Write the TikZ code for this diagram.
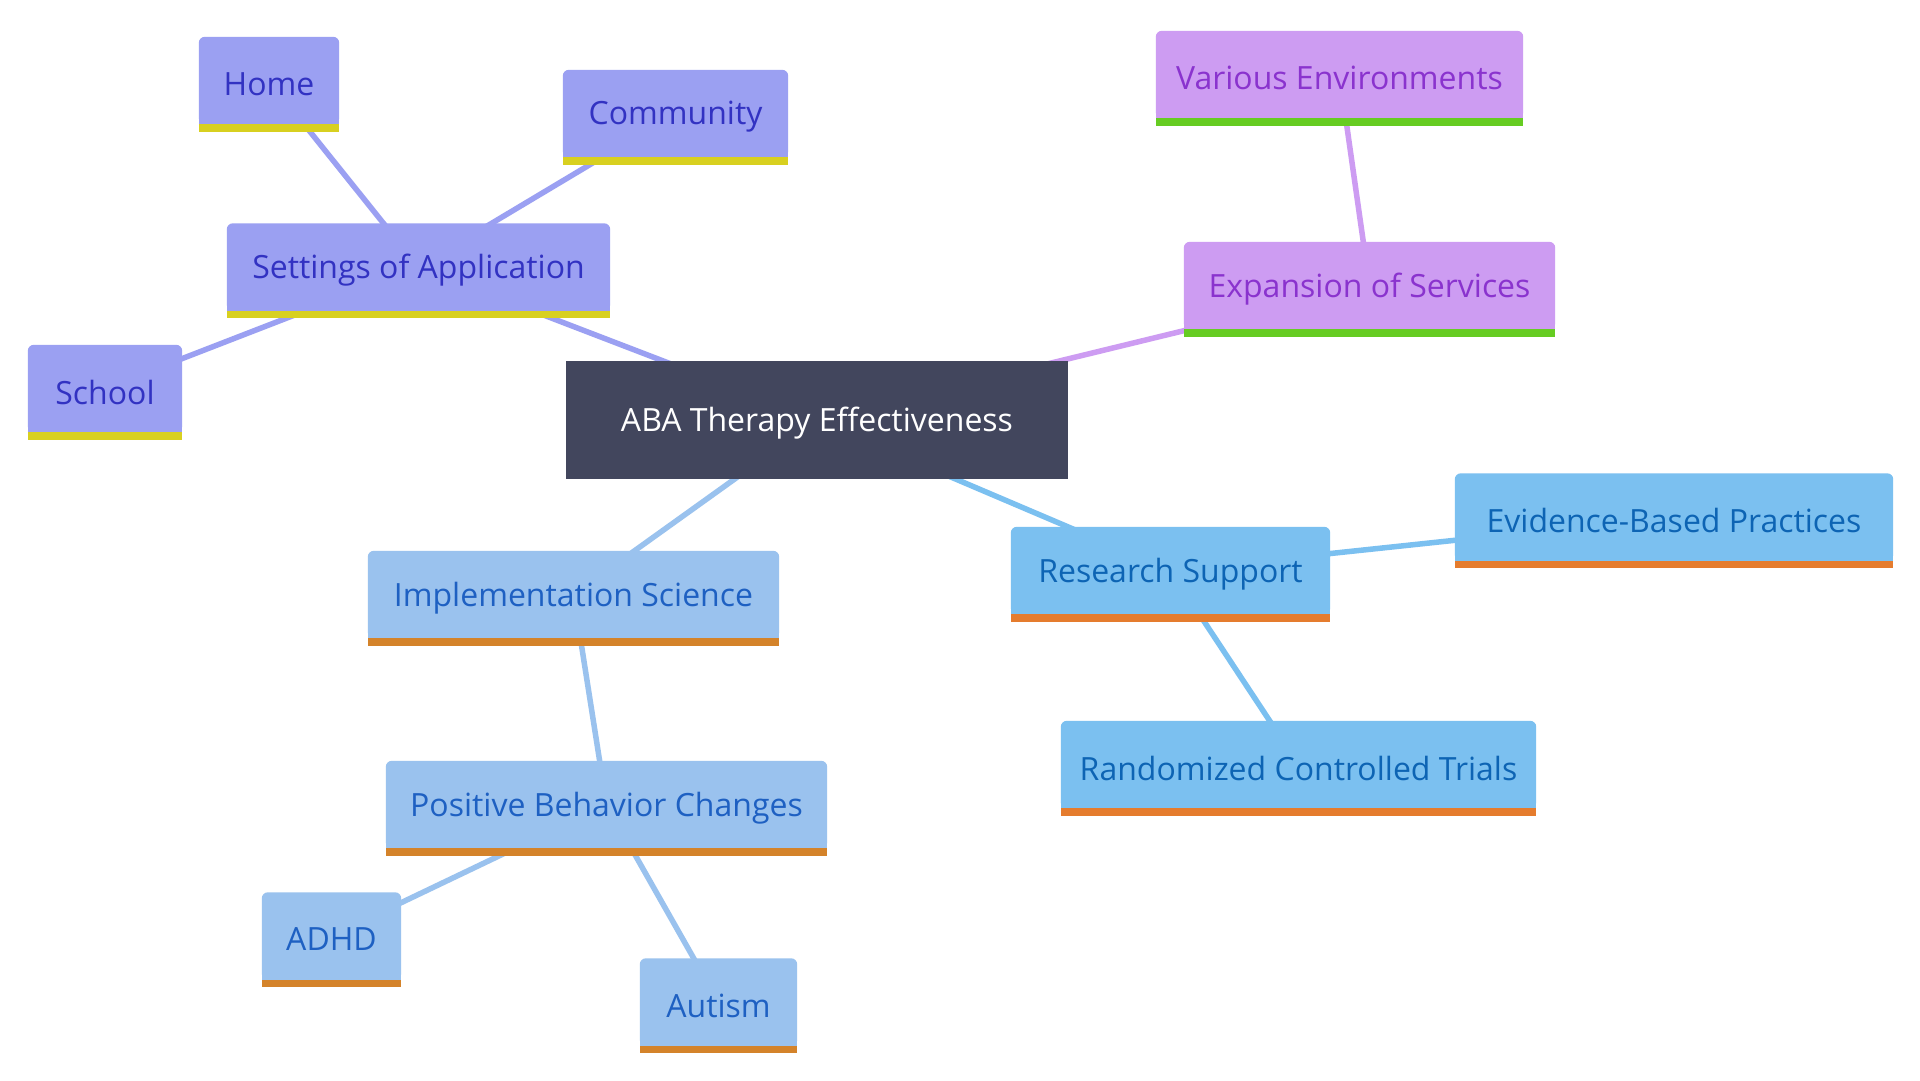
\documentclass[tikz,border=0pt]{standalone}
\usepackage{fontspec}
\setmainfont{Open Sans}
\usetikzlibrary{backgrounds}
\definecolor{setf}{HTML}{9BA0F2}
\definecolor{sett}{HTML}{3232C2}
\definecolor{setb}{HTML}{D8D020}
\definecolor{expf}{HTML}{CD9CF2}
\definecolor{expt}{HTML}{8A33CE}
\definecolor{expb}{HTML}{66CC22}
\definecolor{impf}{HTML}{9AC2EE}
\definecolor{impt}{HTML}{1E60C2}
\definecolor{impb}{HTML}{D4832A}
\definecolor{resf}{HTML}{7BC0F0}
\definecolor{rest}{HTML}{0D64B4}
\definecolor{resb}{HTML}{E57C2E}
\definecolor{abaf}{HTML}{42465D}
\newcommand{\dn}[1]{\raisebox{-3.5pt}[\height][\depth]{#1}}
\tikzset{
  mm/.style={inner sep=0pt, minimum height=87pt, font=\fontsize{32}{38}\selectfont},
  setn/.style={mm, text=sett},
  expn/.style={mm, text=expt},
  impn/.style={mm, text=impt},
  resn/.style={mm, text=rest},
  edge/.style={line width=5.5pt},
}
\begin{document}
\begin{tikzpicture}[x=1pt, y=-1pt]
\useasboundingbox (0,0) rectangle (1920,1080);

\node[inner sep=0pt, minimum width=502pt, minimum height=118pt, text=white, font=\fontsize{32}{38}\selectfont] (aba) at (817,420) {\dn{ABA Therapy Effectiveness}};

\node[setn, minimum width=140pt] (home) at (269,80.5) {\dn{Home}};
\node[setn, minimum width=225pt] (community) at (675.5,113.5) {\dn{Community}};
\node[setn, minimum width=383pt] (settings) at (418.5,267) {\dn{Settings of Application}};
\node[setn, minimum width=154pt] (school) at (105,388.5) {\dn{School}};

\node[expn, minimum width=367pt] (various) at (1339.5,74.5) {\dn{Various Environments}};
\node[expn, minimum width=371pt] (expansion) at (1369.5,285.5) {\dn{Expansion of Services}};

\node[resn, minimum width=319pt] (research) at (1170.5,570.5) {\dn{Research Support}};
\node[resn, minimum width=438pt] (evidence) at (1674,517) {\dn{Evidence-Based Practices}};
\node[resn, minimum width=475pt] (rct) at (1298.5,764.5) {\dn{Randomized Controlled Trials}};

\node[impn, minimum width=411pt] (impl) at (573.5,594.5) {\dn{Implementation Science}};
\node[impn, minimum width=441pt] (pbc) at (606.5,804.5) {\dn{Positive Behavior Changes}};
\node[impn, minimum width=139pt] (adhd) at (331.5,936) {\dn{ADHD}};
\node[impn, minimum width=157pt] (autism) at (718.5,1002) {\dn{Autism}};

\begin{pgfonlayer}{background}
  \fill[white] (0,0) rectangle (1920,1080);
  \draw[edge, setf] (aba.center) -- (settings.center);
  \draw[edge, setf] (settings.center) -- (home.center);
  \draw[edge, setf] (settings.center) -- (community.center);
  \draw[edge, setf] (settings.center) -- (school.center);
  \draw[edge, expf] (aba.center) -- (expansion.center);
  \draw[edge, expf] (expansion.center) -- (various.center);
  \draw[edge, impf] (aba.center) -- (impl.center);
  \draw[edge, impf] (impl.center) -- (pbc.center);
  \draw[edge, impf] (pbc.center) -- (adhd.center);
  \draw[edge, impf] (pbc.center) -- (autism.center);
  \draw[edge, resf] (aba.center) -- (research.center);
  \draw[edge, resf] (research.center) -- (evidence.center);
  \draw[edge, resf] (research.center) -- (rct.center);

  \fill[abaf] (aba.south west) rectangle (aba.north east);
  \foreach \n/\f/\b in {home/setf/setb, community/setf/setb, settings/setf/setb, school/setf/setb,
      various/expf/expb, expansion/expf/expb,
      research/resf/resb, evidence/resf/resb, rct/resf/resb,
      impl/impf/impb, pbc/impf/impb, adhd/impf/impb, autism/impf/impb} {
    \fill[\f, rounded corners=6pt] (\n.south west) rectangle (\n.north east);
    \fill[\f] (\n.south west) rectangle ([yshift=-12pt]\n.north east);
    \fill[\b] (\n.south west) rectangle ([yshift=-7.5pt]\n.south east);
  }
\end{pgfonlayer}
\end{tikzpicture}
\end{document}
